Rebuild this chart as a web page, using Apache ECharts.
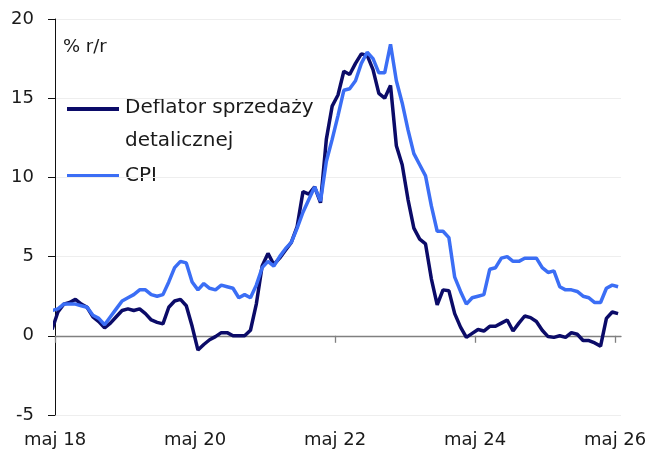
<!DOCTYPE html>
<html><head><meta charset="utf-8">
<script src="https://cdn.jsdelivr.net/npm/echarts@6/dist/echarts.min.js"></script>
<style>html,body{margin:0;padding:0;background:#fff}#c{width:652px;height:454px}</style>
</head><body><div id="c"></div>
<script>
// Monthly observations, first = April 2018, last = May 2026
const firstObs = 'kwi 18';
const deflator = [
  0.4, 1.5, 2.0, 2.1, 2.3, 2.0, 1.8, 1.2, 0.9,            // 2018 Apr-Dec
  0.5, 0.8, 1.2, 1.6, 1.7, 1.6, 1.7, 1.4, 1.0, 0.85, 0.75, 1.8, // 2019
  2.2, 2.3, 1.9, 0.6, -0.9, -0.55, -0.25, -0.05, 0.2, 0.2, 0.0, 0.0, // 2020
  0.0, 0.35, 2.0, 4.4, 5.2, 4.5, 4.9, 5.4, 5.9, 6.9, 9.1, 8.95, // 2021
  9.4, 8.4, 12.4, 14.5, 15.2, 16.7, 16.5, 17.2, 17.8, 17.7, 16.8, 15.3, // 2022
  15.0, 15.8, 12.0, 10.8, 8.6, 6.8, 6.1, 5.8, 3.6, 1.95, 2.9, 2.85, // 2023
  1.4, 0.55, -0.1, 0.15, 0.4, 0.3, 0.6, 0.6, 0.8, 1.0, 0.3, 0.8, // 2024
  1.25, 1.15, 0.9, 0.35, -0.05, -0.1, 0.0, -0.1, 0.2, 0.1, -0.3, -0.3, // 2025
  -0.45, -0.65, 1.1, 1.5, 1.4 // 2026 Jan-May
];
const cpi = [
  1.6, 1.7, 2.0, 2.0, 2.0, 1.9, 1.8, 1.3, 1.1,
  0.7, 1.2, 1.7, 2.2, 2.4, 2.6, 2.9, 2.9, 2.6, 2.5, 2.6, 3.4,
  4.3, 4.7, 4.6, 3.4, 2.9, 3.3, 3.0, 2.9, 3.2, 3.1, 3.0, 2.4,
  2.6, 2.4, 3.2, 4.3, 4.7, 4.4, 5.0, 5.5, 5.9, 6.8, 7.8, 8.6,
  9.4, 8.5, 11.0, 12.4, 13.9, 15.5, 15.6, 16.1, 17.2, 17.9, 17.5, 16.6,
  16.6, 18.4, 16.1, 14.7, 13.0, 11.5, 10.8, 10.1, 8.2, 6.6, 6.6, 6.2,
  3.7, 2.8, 2.0, 2.4, 2.5, 2.6, 4.2, 4.3, 4.9, 5.0, 4.7, 4.7,
  4.9, 4.9, 4.9, 4.3, 4.0, 4.1, 3.1, 2.9, 2.9, 2.8, 2.5, 2.4,
  2.1, 2.1, 3.0, 3.2, 3.1
];
// x axis in months counted from May 2018
const xTickMonths = [0, 24, 48, 72, 96];
const xTickLabels = ['maj 18', 'maj 20', 'maj 22', 'maj 24', 'maj 26'];
const seriesNames = ['Deflator sprzedaży\ndetalicznej', 'CPI'];
const unitLabel = '% r/r';

const FONT = 'DejaVu Sans';
const NAVY = '#0b0b68';
const BLUE = '#3b6ef5';

// observation k is April 2018 + k months; plotted at mid-month
const toPoints = arr => arr.map((v, k) => [k - 1 + 0.5, v]);

const chart = echarts.init(document.getElementById('c'), null, {renderer: 'canvas'});
const labelFor = v => { const i = xTickMonths.indexOf(Math.round(v)); return i >= 0 ? xTickLabels[i] : ''; };

chart.setOption({
  animation: false,
  backgroundColor: '#fff',
  grid: {left: 55, right: 31, top: 19, bottom: 39},
  xAxis: [
    {
      type: 'value', min: 0, max: 97, position: 'bottom',
      axisLine: {show: false, onZero: false}, axisTick: {show: false}, splitLine: {show: false},
      axisLabel: {customValues: xTickMonths, formatter: labelFor, fontFamily: FONT, fontSize: 18, color: '#1a1a1a', margin: 16}
    },
    {
      type: 'value', min: 0, max: 97, position: 'top',
      axisLine: {show: true, onZero: true, lineStyle: {color: '#808080', width: 1.3}},
      axisTick: {show: true, inside: true, length: 7, customValues: xTickMonths, lineStyle: {color: '#808080', width: 1.3}},
      axisLabel: {show: false}, splitLine: {show: false}
    }
  ],
  yAxis: {
    type: 'value', min: -5, max: 20, interval: 5,
    axisLine: {show: true, onZero: false, lineStyle: {color: '#111', width: 1}},
    axisTick: {show: true, length: 7, lineStyle: {color: '#111'}},
    axisLabel: {fontFamily: FONT, fontSize: 18, color: '#1a1a1a', margin: 21},
    splitLine: {show: true, lineStyle: {color: '#eeeeee', width: 1}}
  },
  series: [
    {name: seriesNames[0], type: 'line', data: toPoints(deflator), showSymbol: false, clip: true,
     lineStyle: {color: NAVY, width: 3.5}, itemStyle: {color: NAVY}, z: 3},
    {name: seriesNames[1], type: 'line', data: toPoints(cpi), showSymbol: false, clip: true,
     lineStyle: {color: BLUE, width: 3.5}, itemStyle: {color: BLUE}, z: 4}
  ],
  graphic: [
    {type: 'text', left: 63, top: 38, style: {text: unitLabel, font: '18px "' + FONT + '"', fill: '#1a1a1a'}},
    {type: 'line', shape: {x1: 67, y1: 109, x2: 119, y2: 109}, style: {stroke: NAVY, lineWidth: 4}},
    {type: 'text', x: 125, y: 124, style: {text: seriesNames[0], font: '20px "' + FONT + '"', fill: '#1a1a1a', lineHeight: 33, verticalAlign: 'middle'}},
    {type: 'line', shape: {x1: 67, y1: 176, x2: 119, y2: 176}, style: {stroke: BLUE, lineWidth: 4}},
    {type: 'text', x: 125, y: 176, style: {text: seriesNames[1], font: '20px "' + FONT + '"', fill: '#1a1a1a', verticalAlign: 'middle'}}
  ]
});
</script>
</body></html>
